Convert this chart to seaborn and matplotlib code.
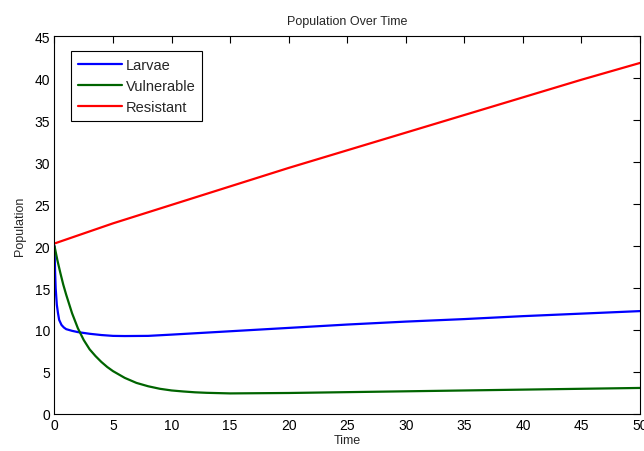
import numpy as np
import pandas as pd
import seaborn as sns
import matplotlib
matplotlib.use("Agg")
import matplotlib.pyplot as plt

# Data
larvae_t = [0, 0.05, 0.1, 0.2, 0.3, 0.4, 0.6, 0.8, 1.0, 1.5, 2, 3, 4, 5, 6, 8, 10, 15, 20, 25, 30, 35, 40, 45, 50]
larvae_v = [20, 17.0, 15.0, 13.0, 12.0, 11.2, 10.6, 10.3, 10.1, 9.9, 9.75, 9.55, 9.4, 9.3, 9.28, 9.3, 9.45, 9.85, 10.25, 10.65, 11.0, 11.3, 11.65, 11.95, 12.25]

vuln_t = [0, 0.25, 0.5, 0.75, 1, 1.5, 2, 2.5, 3, 3.5, 4, 4.5, 5, 6, 7, 8, 9, 10, 11, 12, 13, 15, 20, 25, 30, 35, 40, 45, 50]
vuln_v = [20, 18.3, 16.8, 15.4, 14.2, 12.0, 10.2, 8.8, 7.7, 6.9, 6.2, 5.6, 5.1, 4.3, 3.7, 3.3, 3.0, 2.8, 2.68, 2.58, 2.52, 2.45, 2.5, 2.6, 2.7, 2.8, 2.9, 3.0, 3.1]

resist_t = [0, 5, 10, 15, 20, 25, 30, 35, 40, 45, 50]
resist_v = [20.3, 22.7, 24.9, 27.1, 29.3, 31.4, 33.5, 35.6, 37.7, 39.8, 41.8]

series_names = ["Larvae", "Vulnerable", "Resistant"]
colors = ["#0000ff", "#006400", "#ff0000"]

df = pd.concat([
    pd.DataFrame({"Time": larvae_t, "Population": larvae_v, "Series": "Larvae"}),
    pd.DataFrame({"Time": vuln_t, "Population": vuln_v, "Series": "Vulnerable"}),
    pd.DataFrame({"Time": resist_t, "Population": resist_v, "Series": "Resistant"}),
])

sns.set_theme(style="white")
plt.rcParams["font.family"] = ["Liberation Sans", "DejaVu Sans"]

fig = plt.figure(figsize=(6.44, 4.52), dpi=100)
ax = fig.add_axes([0.0846, 0.0819, 0.9092, 0.8361])

sns.lineplot(data=df, x="Time", y="Population", hue="Series", hue_order=series_names,
             palette=colors, linewidth=1.6, sort=False, estimator=None, ax=ax)

ax.set_xlim(0, 50)
ax.set_ylim(0, 45)
ax.set_xticks(np.arange(0, 51, 5))
ax.set_yticks(np.arange(0, 46, 5))
ax.tick_params(direction="in", top=True, right=True, length=5, width=0.8,
               labelsize=10, colors="black", pad=3)
for s in ax.spines.values():
    s.set_color("black")
    s.set_linewidth(0.8)
    s.set_visible(True)

ax.set_title("Population Over Time", fontsize=9, pad=9)
ax.set_xlabel("Time", fontsize=9, labelpad=1)
ax.set_ylabel("Population", fontsize=9, labelpad=6)

leg = ax.legend(loc="upper left", bbox_to_anchor=(0.029, 0.96), fontsize=10.5,
                frameon=True, fancybox=False, edgecolor="black", framealpha=1,
                handlelength=3.0, handletextpad=0.3, borderpad=0.45, labelspacing=0.5,
                borderaxespad=0)
leg.get_frame().set_linewidth(0.8)

fig.savefig("out.png", dpi=100, facecolor="white")
